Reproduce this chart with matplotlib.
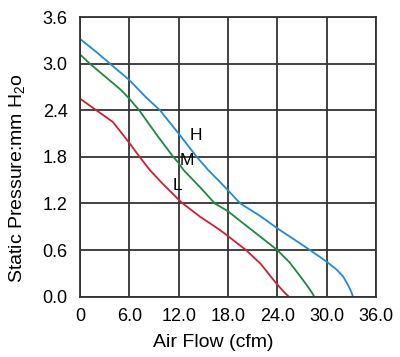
import matplotlib
matplotlib.use("Agg")
import matplotlib.pyplot as plt

plt.rcParams['font.family'] = ['Liberation Sans', 'DejaVu Sans']
plt.rcParams['mathtext.fontset'] = 'custom'
plt.rcParams['mathtext.rm'] = 'Liberation Sans'

# curves (cfm, mm H2O)
h_flow = [0, 2, 3.65, 6, 8, 9.73, 12, 14.2, 15.6, 17, 18, 19.5, 21.9, 24, 26, 27.98, 30, 31.2, 32, 32.6, 33.0, 33.2]
h_pres = [3.32, 3.15, 3.0, 2.79, 2.57, 2.4, 2.10, 1.8, 1.63, 1.48, 1.37, 1.2, 1.04, 0.88, 0.74, 0.6, 0.45, 0.35, 0.26, 0.15, 0.06, 0.0]
m_flow = [0, 1.2, 3, 5, 6, 7.2, 9.5, 11.35, 12, 12.6, 14.6, 16.4, 18, 19.3, 21, 24, 25.5, 26.8, 27.5, 28.1, 28.5]
m_pres = [3.12, 3.0, 2.84, 2.66, 2.55, 2.4, 2.06, 1.8, 1.72, 1.63, 1.41, 1.2, 1.10, 0.99, 0.85, 0.6, 0.44, 0.26, 0.16, 0.07, 0.0]
l_flow = [0, 2, 4, 6, 7.25, 8.5, 10, 12, 12.5, 14.6, 17, 18, 20.2, 22, 23.5, 24.3, 24.9, 25.4]
l_pres = [2.55, 2.4, 2.25, 1.98, 1.8, 1.63, 1.46, 1.25, 1.2, 1.03, 0.86, 0.78, 0.6, 0.42, 0.22, 0.12, 0.05, 0.0]

xticks = [0, 6, 12, 18, 24, 30, 36]
xlabels = ['0', '6.0', '12.0', '18.0', '24.0', '30.0', '36.0']
yticks = [0, 0.6, 1.2, 1.8, 2.4, 3.0, 3.6]
ylabels = ['0.0', '0.6', '1.2', '1.8', '2.4', '3.0', '3.6']

fig = plt.figure(figsize=(4.0, 3.57), dpi=100)
ax = fig.add_axes([0.2, 0.169, 0.74, 0.783])

ax.plot(h_flow, h_pres, color='#1f8ad8', lw=1.3)
ax.plot(m_flow, m_pres, color='#1b8a3c', lw=1.3)
ax.plot(l_flow, l_pres, color='#d11f2e', lw=1.3)

ax.text(14.1, 2.08, 'H', fontsize=12.5, ha='center', va='center')
ax.text(13.0, 1.76, 'M', fontsize=12.5, ha='center', va='center')
ax.text(11.8, 1.43, 'L', fontsize=12.5, ha='center', va='center')

ax.set_xlim(0, 36)
ax.set_ylim(0, 3.6)
ax.set_xticks(xticks)
ax.set_xticklabels(xlabels)
ax.set_yticks(yticks)
ax.set_yticklabels(ylabels)
ax.tick_params(length=0, labelsize=13)
ax.tick_params(axis='x', pad=8)
ax.tick_params(axis='y', pad=9)
ax.grid(True, color='#333333', lw=1.3)
for s in ax.spines.values():
    s.set_color('#333333')
    s.set_linewidth(1.3)

ax.set_xlabel('Air Flow (cfm)', fontsize=14)
ax.xaxis.set_label_coords(0.45, -0.133)
ax.set_ylabel('Static Pressure:mm H$_2$o', fontsize=14)
ax.yaxis.set_label_coords(-0.176, 0.424)

fig.savefig('out.png', dpi=100)
